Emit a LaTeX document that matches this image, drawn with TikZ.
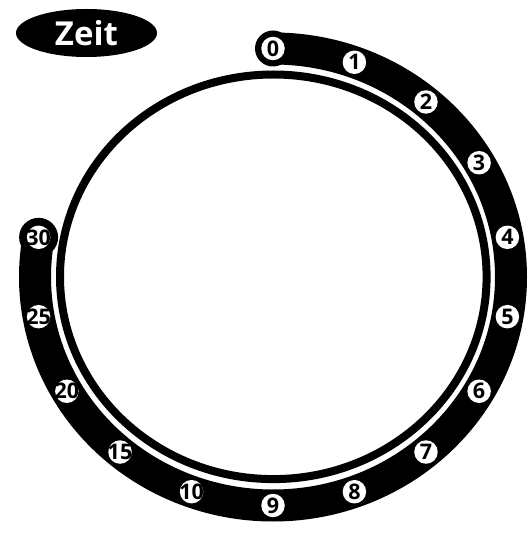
\documentclass[tikz,border=0pt]{standalone}
\usepackage{fontspec}
\setmainfont{Open Sans}
\usetikzlibrary{calc,shapes.geometric}

\begin{document}
\begin{tikzpicture}[
  x=1pt,y=1pt,
  band/.style={line width=32pt,line cap=round},
  ring/.style={line width=8pt},
  num/.style={inner sep=0pt,font=\fontsize{21.5}{21.5}\selectfont\bfseries},
  titel/.style={ellipse,fill=black,text=white,inner sep=0pt,
                minimum width=141pt,minimum height=48pt,
                font=\fontsize{33}{33}\selectfont\bfseries}
]
\useasboundingbox (0,0) rectangle (532,541);

% ---- Mittelpunkte ----
\coordinate (mitte) at (273,264);
\coordinate (kreismitte) at (273.3,264.2);

% ---- innerer Kreis ----
\draw[ring] (kreismitte) ellipse [x radius=213.3pt, y radius=202.3pt];

% ---- Zeitband, von 0 im Uhrzeigersinn bis 30 ----
\draw[band] ($(mitte)+(90:238 and 228.5)$)
  arc[start angle=90, end angle=-190, x radius=238pt, y radius=228.5pt];

% ---- Markierungen ----
\foreach \k/\t in {0/0,1/1,2/2,3/3,4/4,5/5,6/6,7/7,8/8,9/9,
                   10/10,11/15,12/20,13/25,14/30}
  \coordinate (p\k) at ($(mitte)+({90-20*\k}:238 and 228.5)$);
\fill (p0) circle (18pt);
\fill (p14) circle (19.5pt);
\foreach \k/\t in {0/0,1/1,2/2,3/3,4/4,5/5,6/6,7/7,8/8,9/9,
                   10/10,11/15,12/20,13/25,14/30}{
  \fill[white] (p\k) circle (11.75pt);
  \node[num] (t\k) at (p\k) {\t};
}

% ---- Titel ----
\node[titel] (zeit) at (86.5,508) {Zeit};

\end{tikzpicture}
\end{document}
